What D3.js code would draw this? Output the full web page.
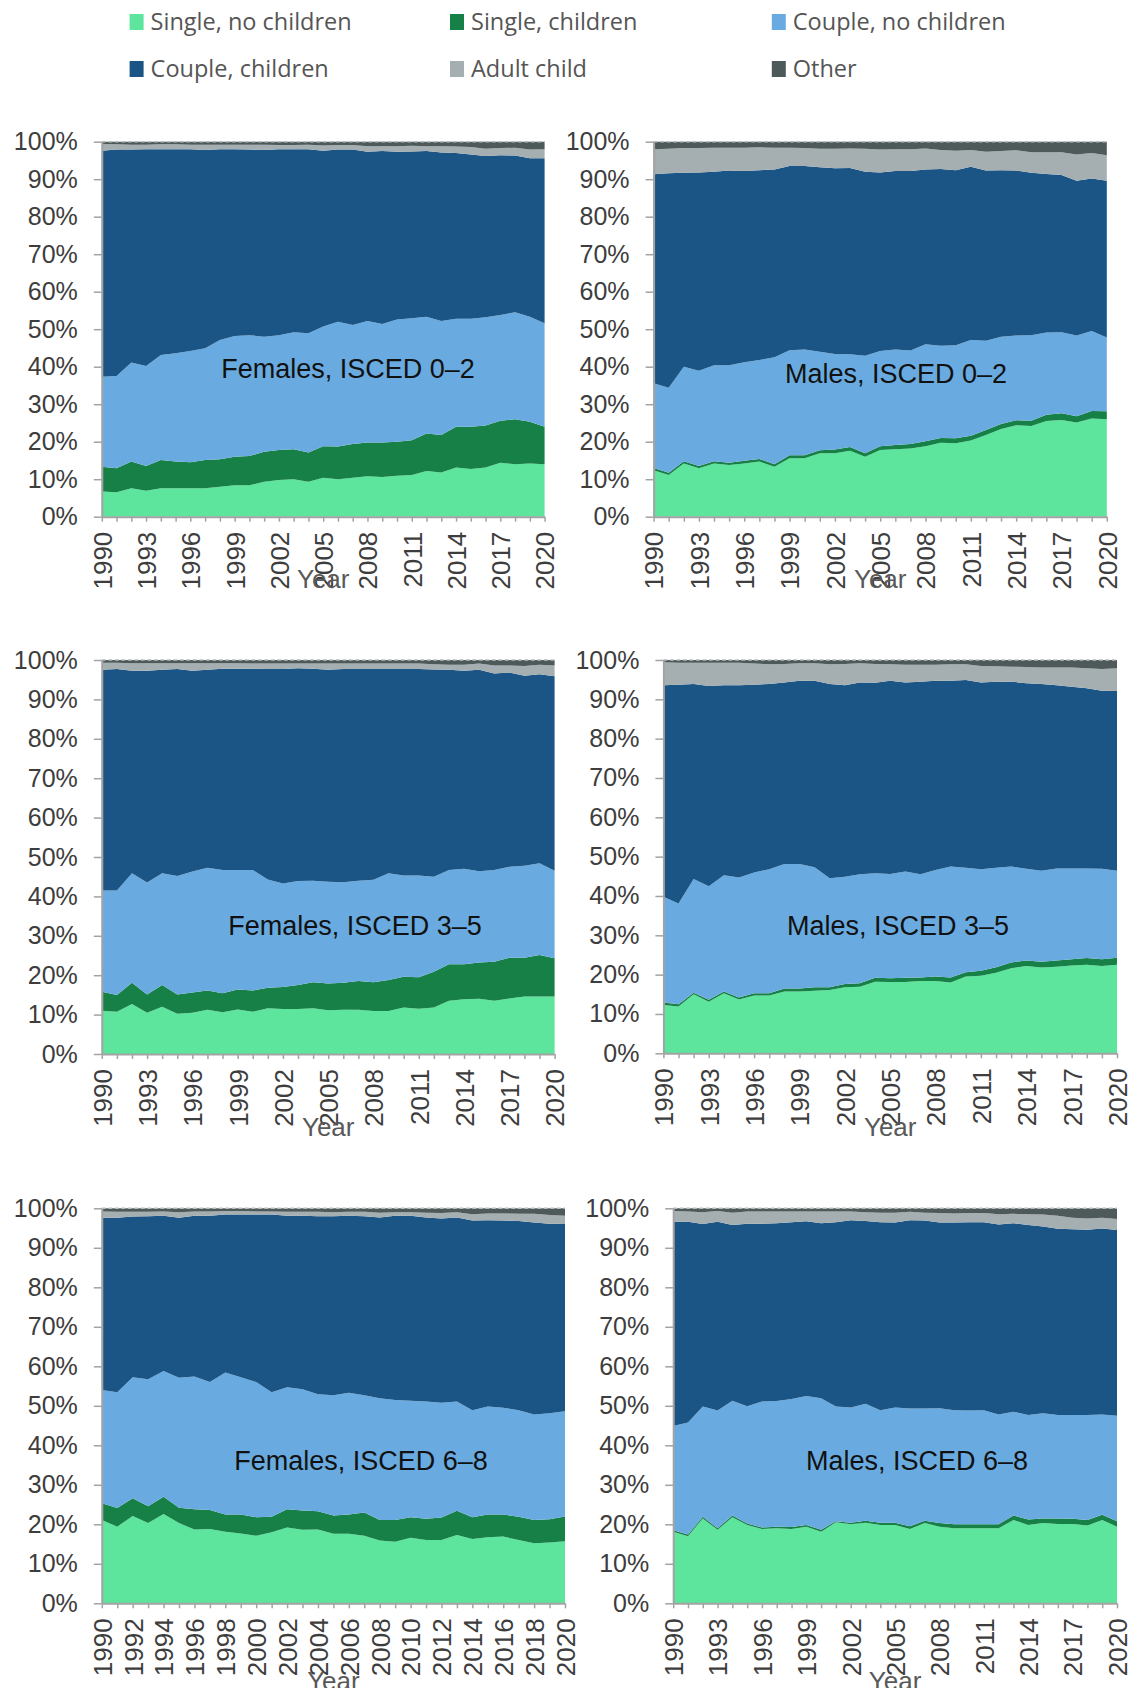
<!DOCTYPE html>
<html>
<head>
<meta charset="utf-8">
<script src="https://cdn.jsdelivr.net/npm/d3@7"></script>
<style>
  html, body { margin: 0; padding: 0; background: #ffffff; }
  svg { display: block; }
</style>
</head>
<body>
<svg id="chart" width="1129" height="1688"></svg>
<script>
// ---- Categories and labels ----
const years = [1990,1991,1992,1993,1994,1995,1996,1997,1998,1999,2000,2001,2002,2003,2004,2005,
               2006,2007,2008,2009,2010,2011,2012,2013,2014,2015,2016,2017,2018,2019,2020];
const seriesNames = ["Single, no children", "Single, children", "Couple, no children",
                     "Couple, children", "Adult child", "Other"];
const seriesColors = ["#5de49d", "#178046", "#69abe0", "#1b5585", "#a5aeb0", "#4e5a5a"];
const yTickValues = [0,10,20,30,40,50,60,70,80,90,100];
const yearLabelsEvery3 = [1990,1993,1996,1999,2002,2005,2008,2011,2014,2017,2020];
const yearLabelsEvery2 = [1990,1992,1994,1996,1998,2000,2002,2004,2006,2008,2010,2012,2014,2016,2018,2020];
const panelTitles = ["Females, ISCED 0–2", "Males, ISCED 0–2", "Females, ISCED 3–5",
                     "Males, ISCED 3–5", "Females, ISCED 6–8", "Males, ISCED 6–8"];
const axisTitle = "Year";

// ---- Shares of living arrangements (%), 1990–2020 ----
// Females, ISCED 0–2
const f02Single      = [6.7,6.5,7.6,6.9,7.6,7.6,7.6,7.6,8.0,8.4,8.4,9.3,9.8,10.0,9.3,10.4,10.0,10.4,10.8,10.6,10.9,11.1,12.2,11.8,13.1,12.7,13.1,14.4,14.0,14.2,14.0];
const f02SingleKids  = [6.6,6.4,7.1,6.6,7.5,7.1,6.9,7.5,7.3,7.6,7.8,8.0,8.0,8.0,7.8,8.4,8.7,9.0,9.0,9.2,9.1,9.3,10.0,10.0,10.9,11.3,11.2,11.2,12.0,11.1,10.0];
const f02Couple      = [24.0,24.6,26.4,26.7,28.0,28.9,29.7,29.8,31.8,32.2,32.2,30.7,30.6,31.2,31.8,31.9,33.3,31.7,32.4,31.6,32.6,32.5,31.1,30.4,28.8,28.8,28.9,28.2,28.5,28.0,27.6];
const f02CoupleKids  = [60.3,60.4,56.8,57.8,54.9,54.4,53.8,52.9,50.9,49.8,49.5,49.8,49.6,48.8,49.1,46.9,45.9,46.8,45.1,46.1,44.7,44.5,44.2,44.9,44.2,43.8,43.0,42.6,41.8,42.3,44.0];
const f02AdultChild  = [1.8,1.4,1.3,1.2,1.3,1.3,1.2,1.4,1.2,1.2,1.3,1.4,1.1,1.1,1.2,1.4,1.2,1.2,1.5,1.3,1.5,1.5,1.3,1.7,1.7,2.0,1.9,1.9,2.1,2.3,2.4];
const f02Other       = [0.6,0.7,0.8,0.8,0.7,0.7,0.8,0.8,0.8,0.8,0.8,0.8,0.9,0.9,0.8,1.0,0.9,0.9,1.2,1.2,1.2,1.1,1.2,1.2,1.3,1.4,1.9,1.7,1.6,2.1,2.0];
// Males, ISCED 0–2
const m02Single      = [12.4,11.1,14.2,12.9,14.2,13.8,14.2,14.7,13.3,15.6,15.6,16.9,16.9,17.6,16.0,17.8,18.0,18.2,18.8,19.7,19.6,20.3,21.8,23.4,24.4,24.2,25.5,25.8,25.1,26.2,26.0];
const m02SingleKids  = [0.6,0.6,0.6,0.6,0.6,0.6,0.7,0.7,0.7,0.8,0.8,0.8,1.0,1.0,0.9,1.0,1.1,1.2,1.3,1.3,1.3,1.3,1.3,1.3,1.3,1.4,1.7,1.8,1.7,2.0,2.1];
const m02Couple      = [22.6,22.7,25.2,25.4,25.6,26.0,26.3,26.4,28.5,28.0,28.2,26.3,25.5,24.7,26.0,25.4,25.5,24.9,25.9,24.6,24.8,25.5,23.8,23.3,22.6,22.8,21.9,21.6,21.5,21.3,19.7];
const m02CoupleKids  = [55.7,57.2,51.7,52.9,51.6,51.9,51.0,50.6,50.1,49.1,48.9,49.2,49.5,49.7,49.1,47.6,47.6,47.9,46.6,47.1,46.7,46.2,45.4,44.4,44.0,43.3,42.3,41.9,41.3,40.7,41.8];
const m02AdultChild  = [6.7,6.5,6.6,6.5,6.4,6.1,6.2,6.1,5.8,4.9,4.8,4.9,5.2,5.2,6.1,6.1,5.8,5.8,5.6,5.1,5.2,4.5,5.0,5.1,5.4,5.5,5.8,6.1,7.0,6.8,6.8];
const m02Other       = [2.0,1.9,1.7,1.7,1.6,1.6,1.6,1.5,1.6,1.6,1.7,1.9,1.9,1.8,1.9,2.1,2.0,2.0,1.8,2.2,2.4,2.2,2.7,2.5,2.3,2.8,2.8,2.8,3.4,3.0,3.6];
// Females, ISCED 3–5
const f35Single      = [11.0,10.7,12.7,10.5,12.0,10.2,10.5,11.2,10.6,11.3,10.7,11.6,11.4,11.4,11.6,11.1,11.2,11.2,10.9,10.9,11.8,11.5,11.8,13.5,13.9,14.0,13.5,14.1,14.6,14.6,14.6];
const f35SingleKids  = [4.8,4.3,5.4,4.6,5.5,4.9,5.1,4.9,4.8,5.1,5.4,5.2,5.6,6.1,6.6,6.8,6.9,7.3,7.3,7.9,7.8,8.0,9.1,9.3,8.9,9.2,9.9,10.3,9.8,10.5,9.7];
const f35Couple      = [25.7,26.5,27.8,28.4,28.4,30.1,30.7,31.2,31.3,30.3,30.6,27.5,26.3,26.4,25.8,25.8,25.5,25.5,26.0,27.1,25.7,25.8,24.1,23.9,24.2,23.2,23.3,23.1,23.4,23.3,22.2];
const f35CoupleKids  = [56.0,56.2,51.4,53.8,51.6,52.5,51.0,50.2,51.1,51.1,51.1,53.4,54.4,54.0,53.8,53.8,54.1,53.7,53.5,51.8,52.4,52.4,52.6,50.8,50.3,51.1,49.9,49.3,48.2,48.0,49.4];
const f35AdultChild  = [1.8,1.6,1.9,1.9,1.7,1.5,1.9,1.7,1.4,1.4,1.3,1.4,1.4,1.2,1.3,1.6,1.4,1.4,1.4,1.4,1.4,1.4,1.3,1.3,1.5,1.6,2.0,1.8,2.5,2.4,2.7];
const f35Other       = [0.7,0.7,0.8,0.8,0.8,0.8,0.8,0.8,0.8,0.8,0.9,0.9,0.9,0.9,0.9,0.9,0.9,0.9,0.9,0.9,0.9,0.9,1.1,1.2,1.2,0.9,1.4,1.4,1.5,1.2,1.4];
// Males, ISCED 3–5
const m35Single      = [12.3,11.9,15.0,13.1,15.3,13.7,14.7,14.7,15.7,15.7,15.9,16.1,16.8,16.9,18.2,18.1,18.1,18.4,18.4,18.0,19.5,19.7,20.5,21.6,22.2,21.8,22.0,22.3,22.5,22.2,22.5];
const m35SingleKids  = [0.6,0.6,0.4,0.5,0.4,0.5,0.6,0.6,0.8,0.8,0.9,0.7,0.8,0.9,1.0,1.0,1.1,0.9,1.1,1.3,1.1,1.3,1.4,1.5,1.4,1.5,1.6,1.6,1.7,1.7,1.8];
const m35Couple      = [26.9,25.6,28.9,28.9,29.6,30.5,30.7,31.5,31.6,31.6,30.5,27.7,27.3,27.7,26.6,26.5,27.0,26.2,27.1,28.2,26.6,25.8,25.3,24.4,23.3,23.1,23.4,23.1,22.8,23.0,22.1];
const m35CoupleKids  = [53.8,55.6,49.6,50.9,48.3,48.9,47.7,47.1,46.2,46.6,47.4,49.4,48.7,48.8,48.4,49.1,48.1,49.0,48.1,47.2,47.7,47.5,47.3,47.0,47.2,47.5,46.6,46.2,45.8,45.3,45.7];
const m35AdultChild  = [5.8,5.6,5.4,5.9,5.7,5.7,5.4,5.0,4.7,4.5,4.5,5.0,5.4,4.9,4.8,4.2,4.5,4.3,4.1,4.2,4.0,4.2,3.9,3.8,4.1,4.2,4.5,4.9,5.1,5.5,5.8];
const m35Other       = [0.6,0.7,0.7,0.7,0.7,0.7,0.9,1.1,1.0,0.8,0.8,1.1,1.0,0.8,1.0,1.1,1.2,1.2,1.2,1.1,1.1,1.5,1.6,1.7,1.8,1.9,1.9,1.9,2.1,2.3,2.1];
// Females, ISCED 6–8
const f68Single      = [21.1,19.4,22.1,20.3,22.6,20.3,18.7,18.8,18.1,17.7,17.1,18.0,19.2,18.6,18.7,17.6,17.6,17.1,15.9,15.6,16.6,16.0,16.0,17.3,16.3,16.7,16.9,16.0,15.2,15.4,15.7];
const f68SingleKids  = [4.2,4.7,4.5,4.3,4.4,3.9,5.1,4.8,4.4,4.8,4.7,3.9,4.6,4.9,4.6,4.6,4.9,5.9,5.2,5.5,5.2,5.4,5.7,6.1,5.5,5.8,5.6,5.9,5.9,5.9,6.3];
const f68Couple      = [28.7,29.3,30.6,32.1,31.8,32.9,33.6,32.4,35.9,34.7,34.2,31.5,30.9,30.7,29.6,30.5,30.8,29.7,30.8,30.4,29.5,29.7,29.1,27.7,27.1,27.3,27.0,27.0,26.7,26.8,26.6];
const f68CoupleKids  = [43.6,44.2,40.7,41.3,39.3,40.5,40.7,42.1,40.0,41.2,42.4,45.0,43.4,43.9,45.1,45.3,44.8,45.3,45.8,46.6,46.8,46.6,46.6,46.6,48.0,47.2,47.4,47.9,48.6,48.0,47.4];
const f68AdultChild  = [1.6,1.5,1.2,1.1,1.1,1.4,1.1,1.1,0.9,0.9,0.8,0.8,1.0,1.0,1.1,1.0,1.0,1.1,1.2,0.9,0.9,1.2,1.4,1.3,1.6,1.7,1.8,1.8,2.2,2.2,2.1];
const f68Other       = [0.8,0.9,0.9,0.9,0.8,1.0,0.8,0.8,0.7,0.7,0.8,0.8,0.9,0.9,0.9,1.0,0.9,0.9,1.1,1.0,1.0,1.1,1.2,1.0,1.5,1.3,1.3,1.4,1.4,1.7,1.9];
// Males, ISCED 6–8
const m68Single      = [18.1,17.0,21.5,18.6,21.8,19.8,18.8,19.0,18.8,19.4,18.1,20.5,20.0,20.4,19.8,19.8,18.8,20.3,19.4,19.0,19.0,19.0,19.0,21.1,19.8,20.3,20.1,20.1,19.7,21.1,19.4];
const m68SingleKids  = [0.4,0.4,0.4,0.4,0.4,0.4,0.4,0.4,0.5,0.4,0.5,0.3,0.4,0.5,0.6,0.6,0.7,0.6,0.9,1.0,1.0,1.0,1.0,1.1,1.4,1.2,1.4,1.3,1.4,1.3,1.4];
const m68Couple      = [26.4,28.4,27.9,29.8,29.1,29.7,31.9,31.8,32.4,32.7,33.3,29.0,29.2,29.6,28.5,29.2,29.8,28.4,29.1,28.9,28.8,28.9,27.8,26.3,26.5,26.6,26.2,26.3,26.6,25.4,26.7];
const m68CoupleKids  = [51.7,50.8,46.2,47.8,44.5,46.2,45.0,45.0,44.8,44.2,44.3,46.7,47.4,46.3,47.6,46.8,47.7,47.6,47.0,47.5,47.7,47.6,48.1,47.7,48.1,47.3,47.1,47.0,46.9,47.1,47.0];
const m68AdultChild  = [2.7,2.6,3.0,2.7,3.1,3.1,3.1,3.0,2.7,2.5,3.0,2.7,2.2,2.2,2.4,2.5,2.1,2.0,2.4,2.3,2.3,2.3,2.6,2.4,2.7,3.0,3.3,2.9,2.8,2.7,2.8];
const m68Other       = [0.7,0.8,1.0,0.7,1.1,0.8,0.8,0.8,0.8,0.8,0.8,0.8,0.8,1.0,1.1,1.1,0.9,1.1,1.2,1.3,1.2,1.2,1.5,1.4,1.5,1.6,1.9,2.4,2.6,2.4,2.7];

// ---- Panel table built from the arrays above (layout kept separate) ----
const panels = [
  { title: panelTitles[0], labels: yearLabelsEvery3,
    series: [f02Single, f02SingleKids, f02Couple, f02CoupleKids, f02AdultChild, f02Other],
    box: { left: 101.8, right: 544.6, top: 141.7, bottom: 516.7 }, note: { cx: 348, base: 378 }, titleBase: 588 },
  { title: panelTitles[1], labels: yearLabelsEvery3,
    series: [m02Single, m02SingleKids, m02Couple, m02CoupleKids, m02AdultChild, m02Other],
    box: { left: 653.6, right: 1106.8, top: 141.7, bottom: 516.7 }, note: { cx: 896, base: 383 }, titleBase: 588 },
  { title: panelTitles[2], labels: yearLabelsEvery3,
    series: [f35Single, f35SingleKids, f35Couple, f35CoupleKids, f35AdultChild, f35Other],
    box: { left: 101.8, right: 554.6, top: 660, bottom: 1054 }, note: { cx: 355, base: 935 }, titleBase: 1136 },
  { title: panelTitles[3], labels: yearLabelsEvery3,
    series: [m35Single, m35SingleKids, m35Couple, m35CoupleKids, m35AdultChild, m35Other],
    box: { left: 663.4, right: 1117, top: 660, bottom: 1053.3 }, note: { cx: 898, base: 935 }, titleBase: 1136 },
  { title: panelTitles[4], labels: yearLabelsEvery2,
    series: [f68Single, f68SingleKids, f68Couple, f68CoupleKids, f68AdultChild, f68Other],
    box: { left: 101.8, right: 565, top: 1208.3, bottom: 1603.3 }, note: { cx: 361, base: 1470 }, titleBase: 1690 },
  { title: panelTitles[5], labels: yearLabelsEvery3,
    series: [m68Single, m68SingleKids, m68Couple, m68CoupleKids, m68AdultChild, m68Other],
    box: { left: 673.2, right: 1117, top: 1208.3, bottom: 1603.3 }, note: { cx: 917, base: 1470 }, titleBase: 1690 }
];

const svg = d3.select("#chart");
const tickFont = "'Liberation Sans', Arial, sans-serif";
const axisGrey = "#a3a3a3";

// ---- Legend ----
const legendCols = [129.6, 450, 771.8];
const legendRows = [14, 61];
const legend = svg.append("g").attr("class", "legend");
seriesNames.forEach((name, i) => {
  const gx = legendCols[i % 3], gy = legendRows[Math.floor(i / 3)];
  legend.append("rect").attr("x", gx).attr("y", gy).attr("width", 14).attr("height", 16)
    .attr("fill", seriesColors[i]);
  legend.append("text").attr("x", gx + 21).attr("y", gy + 16)
    .attr("font-family", "'Open Sans', 'Noto Sans', sans-serif").attr("font-size", 23.5)
    .attr("fill", "#555555").text(name);
});

// ---- Panels ----
panels.forEach(p => {
  const keys = seriesNames;
  const rows = years.map((yr, i) => {
    const r = { year: yr };
    keys.forEach((k, j) => { r[k] = p.series[j][i]; });
    return r;
  });
  const stacked = d3.stack().keys(keys)(rows);

  const x = d3.scaleLinear().domain([years[0], years[years.length - 1]]).range([p.box.left, p.box.right]);
  const y = d3.scaleLinear().domain([0, 100]).range([p.box.bottom, p.box.top]);

  const area = d3.area()
    .x(d => x(d.data.year))
    .y0(d => y(d[0]))
    .y1(d => y(d[1]));

  const g = svg.append("g");

  g.selectAll("path.layer").data(stacked).join("path")
    .attr("class", "layer")
    .attr("d", area)
    .attr("fill", (d, i) => seriesColors[i]);

  // dashed line along the 100% level
  g.append("line")
    .attr("x1", x(years[0])).attr("x2", x(years[years.length - 1]))
    .attr("y1", y(100)).attr("y2", y(100))
    .attr("stroke", "#b9bdbd").attr("stroke-width", 1.4).attr("stroke-dasharray", "4,2.5");

  // y axis
  const yAxis = g.append("g")
    .attr("transform", `translate(${p.box.left},0)`)
    .call(d3.axisLeft(y).tickValues(yTickValues).tickSize(8).tickSizeOuter(0).tickPadding(16)
      .tickFormat(d => d + "%"));
  yAxis.select(".domain").attr("stroke", axisGrey).attr("stroke-width", 2);
  yAxis.selectAll(".tick line").attr("stroke", axisGrey).attr("stroke-width", 1.5);
  yAxis.selectAll(".tick text")
    .attr("font-family", tickFont).attr("font-size", 25).attr("fill", "#3d3d3d");

  // x axis: a tick every year, labels on selected years, rotated
  const xAxis = g.append("g")
    .attr("transform", `translate(0,${p.box.bottom})`)
    .call(d3.axisBottom(x).tickValues(years).tickSize(5).tickSizeOuter(0)
      .tickFormat(d => p.labels.includes(d) ? String(d) : ""));
  xAxis.select(".domain").attr("stroke", axisGrey).attr("stroke-width", 2);
  xAxis.selectAll(".tick line").attr("stroke", axisGrey).attr("stroke-width", 1.5);
  xAxis.selectAll(".tick text")
    .attr("font-family", tickFont).attr("font-size", 26).attr("fill", "#3d3d3d")
    .attr("transform", "rotate(-90)")
    .attr("text-anchor", "end")
    .attr("x", -15).attr("y", 0).attr("dy", "0.36em");

  // axis title
  g.append("text")
    .attr("x", (p.box.left + p.box.right) / 2).attr("y", p.titleBase)
    .attr("text-anchor", "middle")
    .attr("font-family", tickFont).attr("font-size", 26).attr("fill", "#595959")
    .text(axisTitle);

  // panel label
  g.append("text")
    .attr("x", p.note.cx).attr("y", p.note.base)
    .attr("text-anchor", "middle")
    .attr("font-family", tickFont).attr("font-size", 27).attr("fill", "#111111")
    .text(p.title);
});
</script>
</body>
</html>
